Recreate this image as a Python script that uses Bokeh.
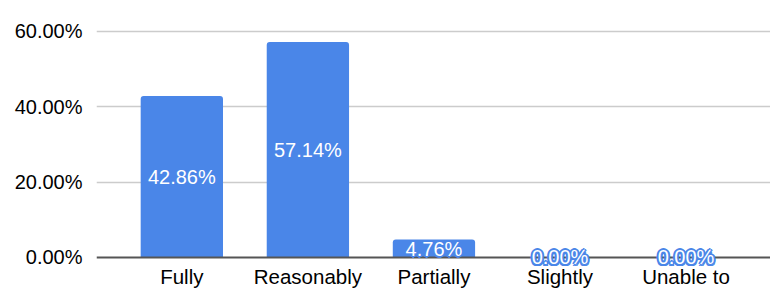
from bokeh.plotting import figure
from bokeh.models import ColumnDataSource, Range1d, FixedTicker, CustomJSTickFormatter, LabelSet
from bokeh.embed import file_html
from bokeh.resources import INLINE
from bokeh.core.properties import value

categories = ["Fully", "Reasonably", "Partially", "Slightly", "Unable to"]
percentages = [42.86, 57.14, 4.76, 0.00, 0.00]
y_ticks = [0, 20, 40, 60]

xs = list(range(len(categories)))
src = ColumnDataSource(dict(
    x=xs,
    top=percentages,
    mid=[v / 2 for v in percentages],
    label=["%.2f%%" % v for v in percentages],
))

BLUE = "#4a86e8"
FONT = "Liberation Sans"

p = figure(width=770, height=299, output_backend="svg", toolbar_location=None,
           x_range=Range1d(-0.677, 4.67), y_range=Range1d(-11.15, 65.0),
           min_border_left=96, min_border_right=0, min_border_top=12, min_border_bottom=0)
p.outline_line_color = None
p.background_fill_color = "white"

p.vbar(x="x", top="top", bottom=0, width=0.653, source=src, fill_color=BLUE,
       line_color=None, border_radius=(3, 3, 0, 0))

# axes
p.xaxis.fixed_location = 0
p.xaxis.ticker = FixedTicker(ticks=xs)
p.xaxis.major_label_overrides = {i: c for i, c in enumerate(categories)}
p.xaxis.axis_line_color = "#555555"
p.xaxis.axis_line_width = 2
p.xaxis.major_tick_line_color = None
p.xaxis.major_tick_out = 0
p.xaxis.minor_tick_line_color = None
p.xaxis.major_label_text_font = FONT
p.xaxis.major_label_text_font_size = "20.5px"
p.xaxis.major_label_text_color = "#000000"
p.xaxis.major_label_standoff = 8

p.yaxis.ticker = FixedTicker(ticks=y_ticks)
p.yaxis.formatter = CustomJSTickFormatter(code="return tick.toFixed(2) + '%';")
p.yaxis.axis_line_color = None
p.yaxis.major_tick_line_color = None
p.yaxis.major_tick_out = 0
p.yaxis.minor_tick_line_color = None
p.yaxis.major_label_text_font = FONT
p.yaxis.major_label_text_font_size = "20px"
p.yaxis.major_label_text_color = "#000000"
p.yaxis.major_label_standoff = 14

p.xgrid.grid_line_color = None
p.ygrid.ticker = FixedTicker(ticks=[20, 40, 60])
p.ygrid.grid_line_color = "#cccccc"
p.ygrid.grid_line_width = 1.5

# value labels with a blue halo, drawn above the axis line
for dx, dy in [(-2, 0), (2, 0), (0, -2), (0, 2), (-1.5, -1.5), (1.5, -1.5), (-1.5, 1.5), (1.5, 1.5)]:
    p.add_layout(LabelSet(x="x", y="mid", text="label", source=src, text_align="center",
                          text_baseline="middle", text_color=BLUE, text_font=value(FONT),
                          text_font_size="20px", x_offset=dx, y_offset=dy))
p.add_layout(LabelSet(x="x", y="mid", text="label", source=src, text_align="center",
                      text_baseline="middle", text_color="white", text_font=value(FONT),
                      text_font_size="20px"))

open("out.html", "w").write(file_html(p, INLINE))
